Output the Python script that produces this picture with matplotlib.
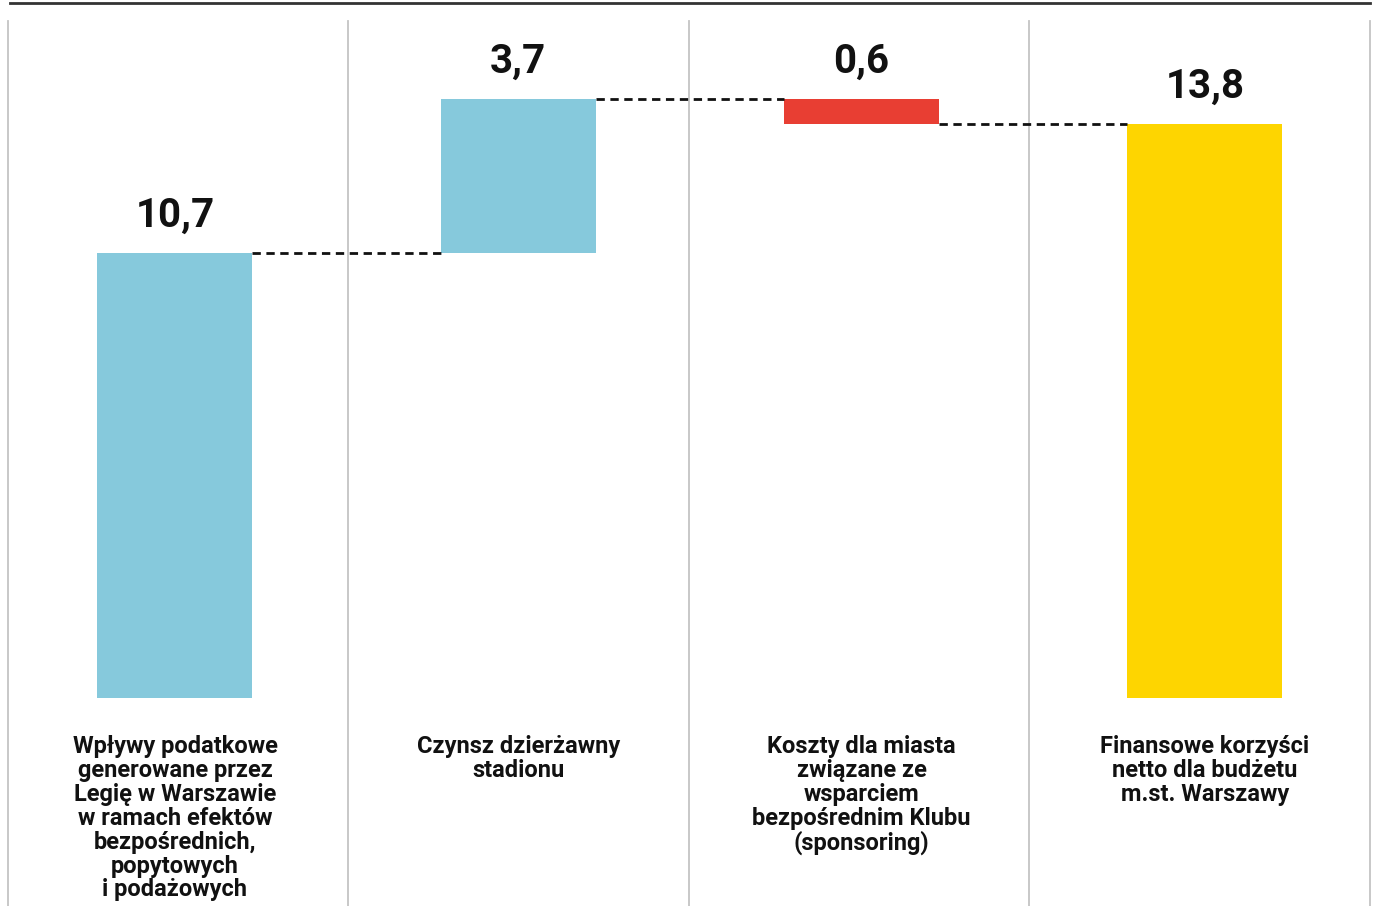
import matplotlib.pyplot as plt
from matplotlib.transforms import blended_transform_factory

# waterfall: tax income + lease - sponsoring costs = net benefit
labels = [
    "Wpływy podatkowe\ngenerowane przez\nLegię w Warszawie\nw ramach efektów\nbezpośrednich,\npopytowych\ni podażowych",
    "Czynsz dzierżawny\nstadionu",
    "Koszty dla miasta\nzwiązane ze\nwsparciem\nbezpośrednim Klubu\n(sponsoring)",
    "Finansowe korzyści\nnetto dla budżetu\nm.st. Warszawy",
]
values = [10.7, 3.7, -0.6, 13.8]
value_text = ["10,7", "3,7", "0,6", "13,8"]
is_total = [False, False, False, True]
colors = ["#86c9dc", "#86c9dc", "#e83e33", "#fed500"]

W, H = 1378, 906
fig = plt.figure(figsize=(W / 100, H / 100), dpi=100)
ax = fig.add_axes([0, 0, 1, 1])

# bars every 343.3 px starting at 175 px, baseline 698 px from top, 41.6 px per unit
x0, step = 175, 343.3
base, ppu = 698, 41.6
ax.set_xlim(-x0 / step, (W - x0) / step)
ax.set_ylim(-(H - base) / ppu, base / ppu)
ax.axis("off")


def px_to_x(px):
    return (px - x0) / step


bar_w = 155 / step
starts, ends = [], []
run = 0.0
for v, tot in zip(values, is_total):
    if tot:
        starts.append(0.0)
        ends.append(v)
        run = v
    else:
        starts.append(run)
        run += v
        ends.append(run)

tr = blended_transform_factory(ax.transData, ax.transAxes)
for i in range(len(values)):
    lo = min(starts[i], ends[i])
    hi = max(starts[i], ends[i])
    ax.bar(i, hi - lo, bottom=lo, width=bar_w, color=colors[i], zorder=2)
    ax.annotate(value_text[i], (i, hi), xytext=(0, 13), textcoords="offset points",
                ha="center", va="bottom", fontsize=29, fontweight="bold",
                family="Roboto", color="#111111")
    ax.text(i, 1 - 735 / H, labels[i], transform=tr,
            ha="center", va="top", fontsize=17, fontweight="bold", family="Roboto",
            linespacing=1.05, color="#111111")

# connectors between bars
for i in range(len(values) - 1):
    ax.plot([i + bar_w / 2, i + 1 - bar_w / 2], [ends[i], ends[i]], color="#111111",
            lw=2, dashes=(3, 2), zorder=3)

# column separators and top rule
for px in [8, 348, 689, 1029, 1370]:
    ax.axvline(px_to_x(px), ymin=0, ymax=1 - 21 / H, color="#c4c4c4", lw=1.3, zorder=1)
ax.axhline((base - 3) / ppu, xmin=10 / W, xmax=1370 / W, color="#333333", lw=2)

fig.savefig("out.png", dpi=100)
